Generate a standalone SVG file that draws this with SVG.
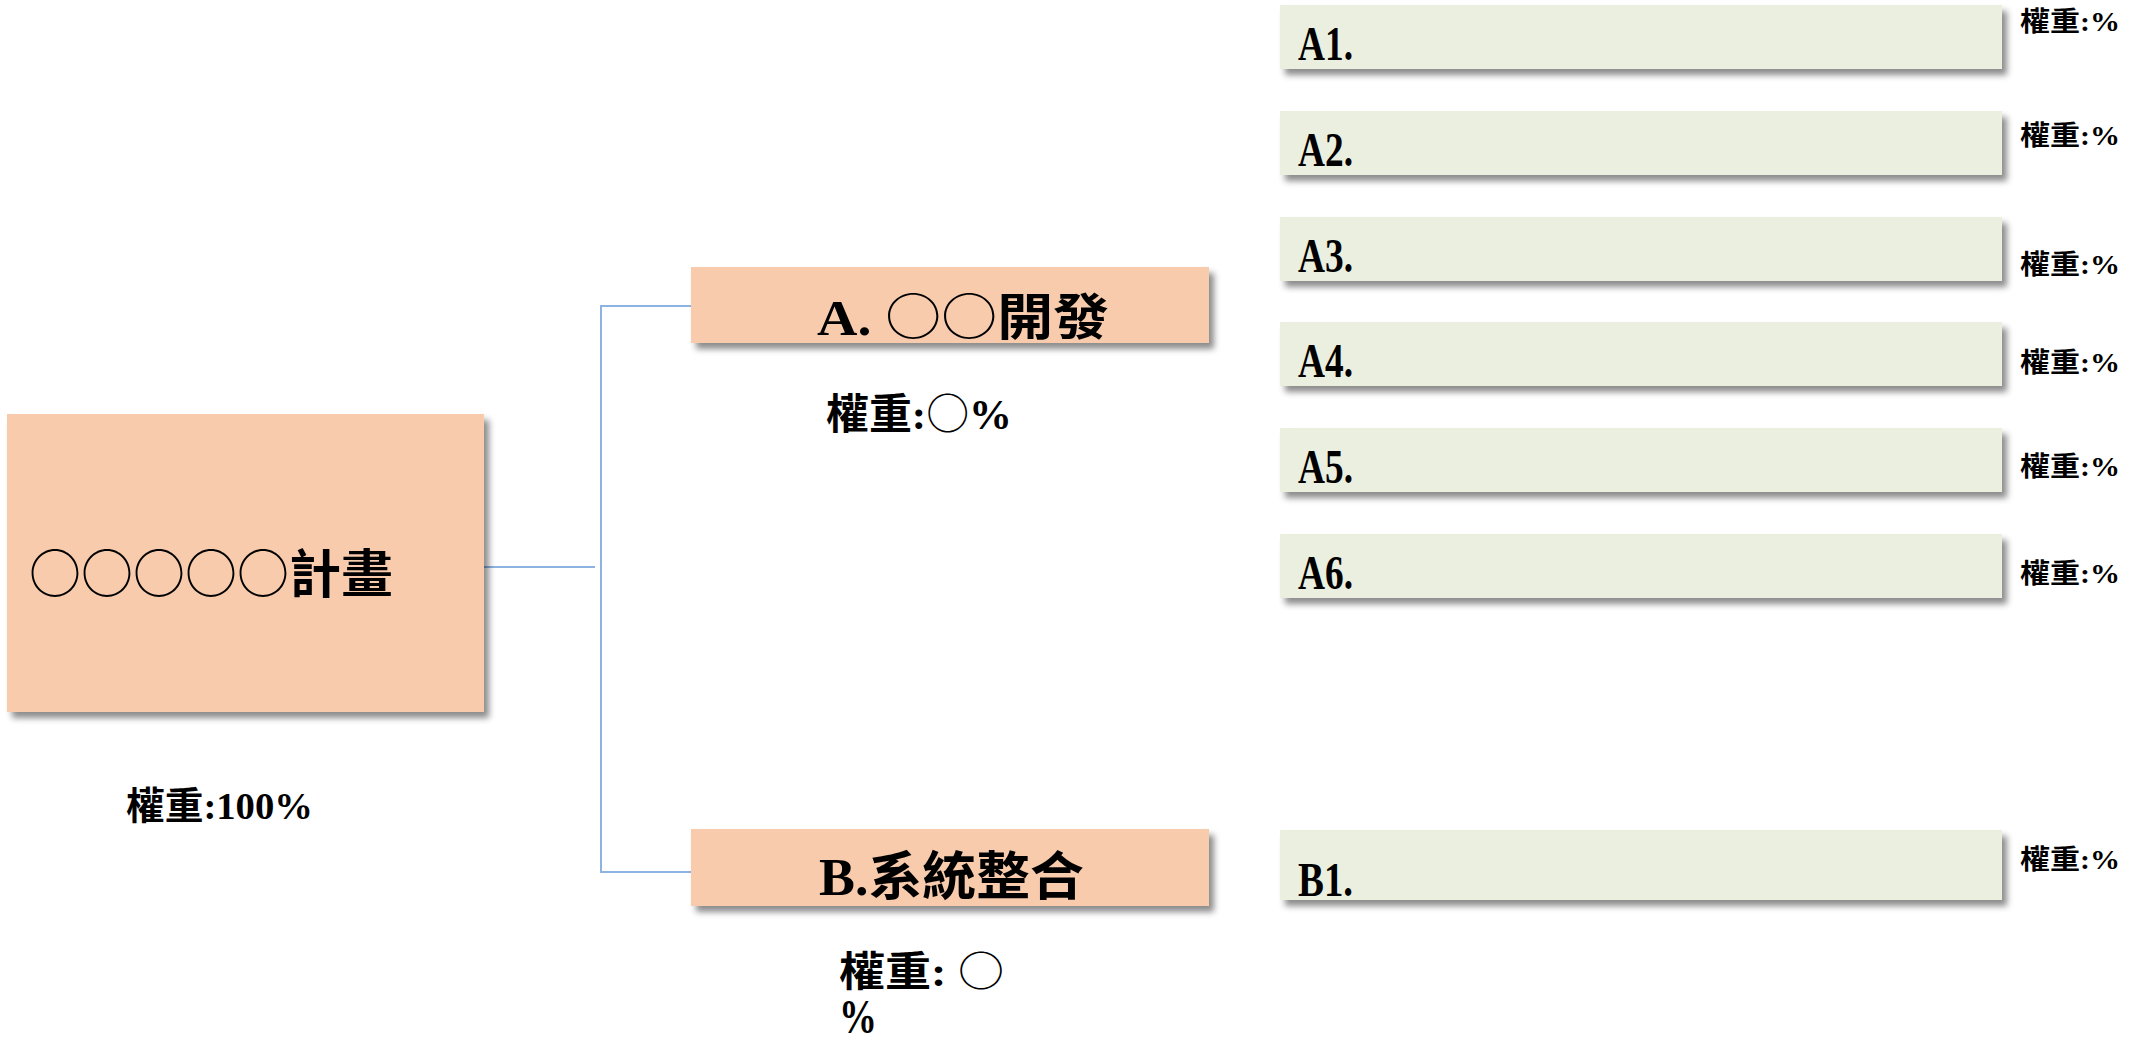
<svg xmlns="http://www.w3.org/2000/svg" width="2133" height="1043" viewBox="0 0 2133 1043">
<defs>
<filter id="sh" x="-5%" y="-20%" width="115%" height="160%">
<feDropShadow dx="5" dy="6" stdDeviation="3" flood-color="#000" flood-opacity="0.45"/>
</filter>
<style>
.org{fill:#F8CBAD;filter:url(#sh)}
.grn{fill:#EBEFDF;filter:url(#sh)}
.t{font-family:"Liberation Serif","Noto Sans CJK TC",serif;fill:#000;font-weight:700}
.c{font-family:"Noto Sans CJK TC",sans-serif;font-weight:400}
.conn{stroke:#8DB3E2;stroke-width:2;fill:none}
</style>
</defs>
<rect x="0" y="0" width="2133" height="1043" fill="#fff"/>
<g id="connectors">
<line class="conn" x1="484" y1="567" x2="595" y2="567"/>
<polyline class="conn" points="691,306 601,306 601,872 691,872"/>
</g>
<g id="root">
<rect class="org" x="7" y="414" width="477" height="298"/>
<text class="t" x="29" y="593" font-size="52" textLength="364" lengthAdjust="spacingAndGlyphs"><tspan class="c">○○○○○</tspan>計畫</text>
<text class="t" x="126" y="819" font-size="38" textLength="187" lengthAdjust="spacingAndGlyphs">權重:100%</text>
</g>
<g id="nodeA">
<rect class="org" x="691" y="267" width="518" height="76"/>
<text class="t" x="817" y="335" font-size="50" textLength="292" lengthAdjust="spacingAndGlyphs">A. <tspan class="c">○○</tspan>開發</text>
<text class="t" x="826" y="429" font-size="42" textLength="186" lengthAdjust="spacingAndGlyphs">權重:<tspan class="c">○</tspan>%</text>
</g>
<g id="nodeB">
<rect class="org" x="691" y="829" width="518" height="77"/>
<text class="t" x="819" y="895" font-size="52" textLength="265" lengthAdjust="spacingAndGlyphs">B.系統整合</text>
<text class="t" x="839" y="986" font-size="41"><tspan x="839" y="986" textLength="165" lengthAdjust="spacingAndGlyphs">權重: <tspan class="c">○</tspan></tspan><tspan x="839" y="1033" font-size="48" textLength="38" lengthAdjust="spacingAndGlyphs">%</tspan></text>
</g>
<g id="A1">
<rect class="grn" x="1280" y="5" width="722" height="64"/>
<text class="t" x="1298" y="60" font-size="48" textLength="55" lengthAdjust="spacingAndGlyphs">A1.</text>
<text class="t" x="2020" y="31" font-size="27" textLength="100" lengthAdjust="spacingAndGlyphs">權重:%</text>
</g>
<g id="A2">
<rect class="grn" x="1280" y="111" width="722" height="64"/>
<text class="t" x="1298" y="166" font-size="48" textLength="55" lengthAdjust="spacingAndGlyphs">A2.</text>
<text class="t" x="2020" y="145" font-size="27" textLength="100" lengthAdjust="spacingAndGlyphs">權重:%</text>
</g>
<g id="A3">
<rect class="grn" x="1280" y="217" width="722" height="64"/>
<text class="t" x="1298" y="272" font-size="48" textLength="55" lengthAdjust="spacingAndGlyphs">A3.</text>
<text class="t" x="2020" y="274" font-size="27" textLength="100" lengthAdjust="spacingAndGlyphs">權重:%</text>
</g>
<g id="A4">
<rect class="grn" x="1280" y="322" width="722" height="64"/>
<text class="t" x="1298" y="377" font-size="48" textLength="55" lengthAdjust="spacingAndGlyphs">A4.</text>
<text class="t" x="2020" y="372" font-size="27" textLength="100" lengthAdjust="spacingAndGlyphs">權重:%</text>
</g>
<g id="A5">
<rect class="grn" x="1280" y="428" width="722" height="64"/>
<text class="t" x="1298" y="483" font-size="48" textLength="55" lengthAdjust="spacingAndGlyphs">A5.</text>
<text class="t" x="2020" y="476" font-size="27" textLength="100" lengthAdjust="spacingAndGlyphs">權重:%</text>
</g>
<g id="A6">
<rect class="grn" x="1280" y="534" width="722" height="64"/>
<text class="t" x="1298" y="589" font-size="48" textLength="55" lengthAdjust="spacingAndGlyphs">A6.</text>
<text class="t" x="2020" y="583" font-size="27" textLength="100" lengthAdjust="spacingAndGlyphs">權重:%</text>
</g>
<g id="B1">
<rect class="grn" x="1280" y="830" width="722" height="70"/>
<text class="t" x="1298" y="896" font-size="48" textLength="55" lengthAdjust="spacingAndGlyphs">B1.</text>
<text class="t" x="2020" y="869" font-size="27" textLength="100" lengthAdjust="spacingAndGlyphs">權重:%</text>
</g>
</svg>
